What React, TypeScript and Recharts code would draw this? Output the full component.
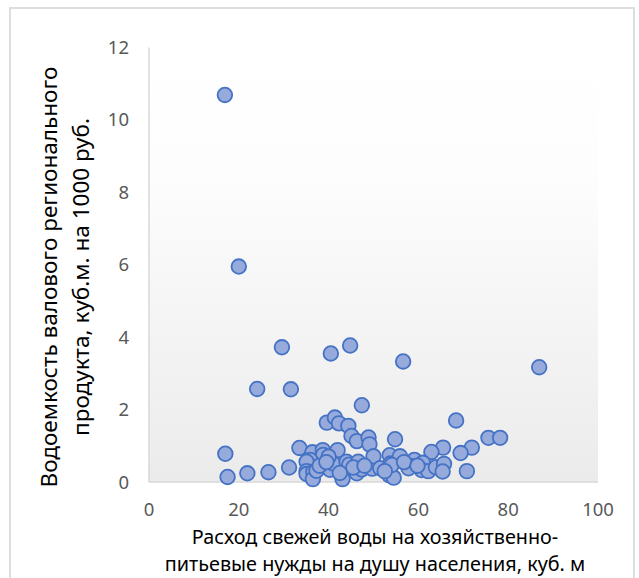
import React from "react";
import { ScatterChart, Scatter, XAxis, YAxis, CartesianGrid } from "recharts";

const xValues = [
  16.9, 20.0, 29.6, 40.5, 44.8, 56.6, 86.9, 24.1, 31.6, 47.4,
  39.6, 41.4, 42.3, 44.4, 45.1, 46.3, 48.9, 49.1, 54.8, 68.4,
  75.6, 78.2, 71.9, 69.4, 70.8, 65.5, 62.9, 17.0, 17.5, 21.9,
  26.6, 31.2, 33.5, 36.4, 38.7, 38.8, 42.0, 35.9, 35.1, 35.1,
  35.1, 36.6, 36.5, 37.3, 40.3, 41.0, 43.1, 44.0, 44.6, 46.6,
  46.3, 47.4, 49.7, 50.0, 51.5, 53.6, 53.8, 53.5, 54.5, 55.9,
  59.1, 61.0, 58.3, 57.8, 60.7, 62.2, 63.9, 65.7, 65.4, 54.1,
  40.0, 38.0, 39.5, 45.5, 48.0, 52.5, 56.8, 59.8, 42.5,
];
const yValues = [
  10.69, 5.95, 3.72, 3.55, 3.77, 3.33, 3.17, 2.57, 2.56, 2.12,
  1.64, 1.78, 1.62, 1.55, 1.27, 1.13, 1.23, 1.04, 1.18, 1.7,
  1.22, 1.22, 0.95, 0.8, 0.3, 0.95, 0.83, 0.78, 0.14, 0.24,
  0.27, 0.4, 0.94, 0.82, 0.88, 0.75, 0.88, 0.61, 0.56, 0.3,
  0.22, 0.28, 0.08, 0.31, 0.34, 0.51, 0.08, 0.56, 0.48, 0.56,
  0.24, 0.35, 0.37, 0.71, 0.38, 0.74, 0.51, 0.19, 0.12, 0.71,
  0.61, 0.53, 0.44, 0.38, 0.33, 0.3, 0.41, 0.5, 0.29, 0.47,
  0.7, 0.45, 0.55, 0.4, 0.45, 0.3, 0.55, 0.45, 0.25,
];
const xTicks = [0, 20, 40, 60, 80, 100];
const yTicks = [0, 2, 4, 6, 8, 10, 12];
const xTitle = ["Расход свежей воды на хозяйственно-", "питьевые нужды на душу населения, куб. м"];
const yTitle = ["Водоемкость валового регионального", "продукта, куб.м. на 1000 руб."];

const data = xValues.map((x, i) => ({ x, y: yValues[i] }));

const FONT = "'Noto Sans', 'Open Sans', sans-serif";

const Dot = (props: any) => {
  const { cx, cy } = props;
  if (cx == null || cy == null) return null;
  return <circle cx={cx} cy={cy} r={7.3} fill="#97AADC" stroke="#4472C4" strokeWidth={1.8} />;
};

const XTitle = (props: any) => {
  const vb = props.viewBox || {};
  const cx = vb.x + vb.width / 2 + 1.5;
  return (
    <g>
      <text x={cx} y={527} textAnchor="middle" dominantBaseline="central" fontSize={19.8} fill="#000" fontFamily={FONT}>
        {xTitle[0]}
      </text>
      <text x={cx} y={554} textAnchor="middle" dominantBaseline="central" fontSize={19.8} fill="#000" fontFamily={FONT}>
        {xTitle[1]}
      </text>
    </g>
  );
};

const YTitle = () => {
  const cy = 268;
  return (
    <g>
      <text x={37} y={cy} transform={`rotate(-90 37 ${cy})`} textAnchor="middle" dominantBaseline="central" fontSize={22.5} fill="#000" fontFamily={FONT}>
        {yTitle[0]}
      </text>
      <text x={69} y={cy} transform={`rotate(-90 69 ${cy})`} textAnchor="middle" dominantBaseline="central" fontSize={22.5} fill="#000" fontFamily={FONT}>
        {yTitle[1]}
      </text>
    </g>
  );
};

export default function App() {
  return (
    <div>
      <svg width={0} height={0} style={{ position: "absolute" }}>
        <defs>
          <linearGradient id="plotBg" x1="0" y1="0" x2="0" y2="1">
            <stop offset="0%" stopColor="#FFFFFF" />
            <stop offset="30%" stopColor="#FDFDFD" />
            <stop offset="100%" stopColor="#EBEBEB" />
          </linearGradient>
        </defs>
      </svg>
      <div
        style={{
          position: "absolute",
          left: 9,
          top: 7,
          width: 622,
          height: 575,
          border: "2px solid #DEDEDE",
          background: "#fff",
        }}
      >
        <ScatterChart width={622} height={575} margin={{ top: 38.5, right: 35, left: 0, bottom: 0 }}>
          <CartesianGrid horizontal={false} vertical={false} fill="url(#plotBg)" stroke="none" />
          <XAxis
            type="number"
            dataKey="x"
            domain={[0, 100]}
            ticks={xTicks}
            interval={0}
            height={102}
            axisLine={{ stroke: "#D9D9D9", strokeWidth: 1.5 }}
            tickLine={false}
            tickSize={0}
            tickMargin={21}
            tick={{ fill: "#595959", fontSize: 18.5, fontFamily: FONT }}
            label={<XTitle />}
          />
          <YAxis
            type="number"
            dataKey="y"
            domain={[0, 12]}
            ticks={yTicks}
            interval={0}
            width={138}
            axisLine={{ stroke: "#D9D9D9", strokeWidth: 1.5 }}
            tickLine={false}
            tickSize={0}
            tickMargin={20}
            tick={{ fill: "#595959", fontSize: 18.5, fontFamily: FONT }}
            label={<YTitle />}
          />
          <Scatter data={data} shape={<Dot />} isAnimationActive={false} />
        </ScatterChart>
      </div>
    </div>
  );
}
